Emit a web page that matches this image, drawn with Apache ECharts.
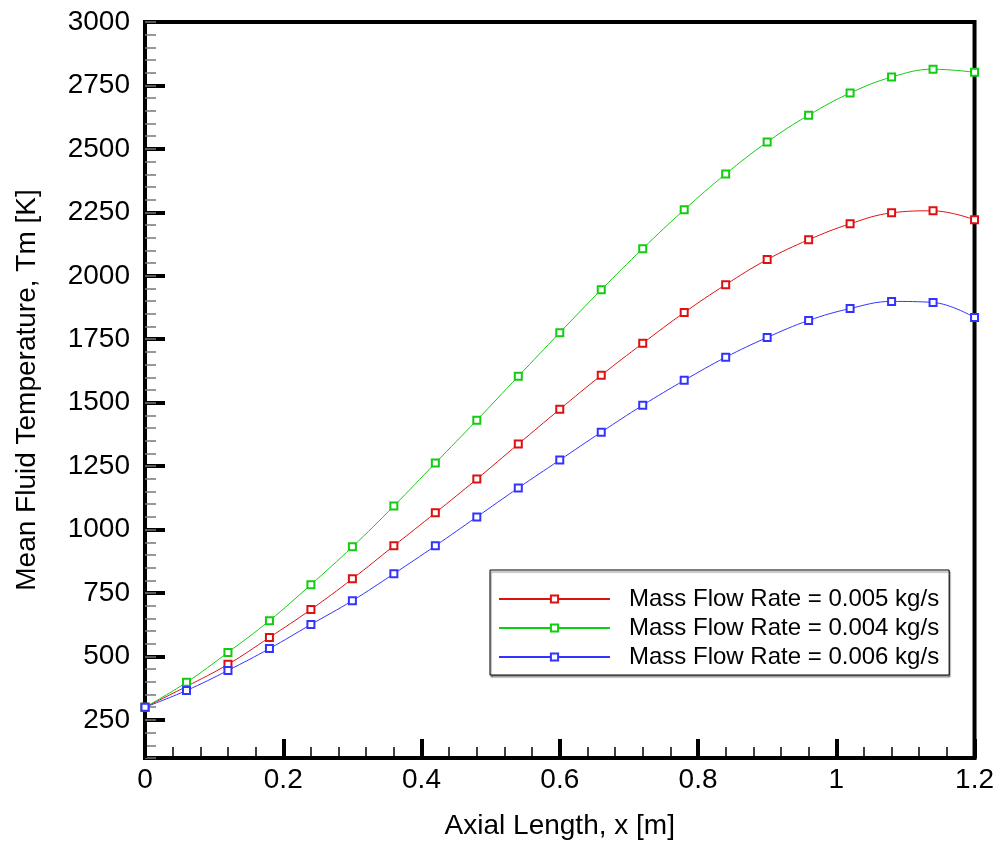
<!DOCTYPE html>
<html>
<head>
<meta charset="utf-8">
<script src="https://cdn.jsdelivr.net/npm/echarts@6/dist/echarts.min.js"></script>
<style>
html,body{margin:0;padding:0;background:#fff;}
#chart{width:997px;height:845px;}
</style>
</head>
<body>
<div id="chart"></div>
<script>
var xValues = [0, 0.06, 0.12, 0.18, 0.24, 0.30, 0.36, 0.42, 0.48, 0.54, 0.60, 0.66, 0.72, 0.78, 0.84, 0.90, 0.96, 1.02, 1.08, 1.14, 1.20];
var red005 = [300, 382, 469, 575, 685, 806, 936, 1066, 1199, 1337, 1474, 1608, 1734, 1855, 1965, 2064, 2142, 2205, 2248, 2256, 2221];
var green004 = [300, 398, 516, 641, 783, 932, 1093, 1262, 1431, 1604, 1776, 1945, 2107, 2260, 2401, 2527, 2633, 2720, 2783, 2814, 2802];
var blue006 = [300, 366, 445, 531, 626, 720, 826, 936, 1050, 1164, 1274, 1384, 1490, 1588, 1679, 1757, 1824, 1871, 1899, 1895, 1836];
var seriesNames = ['Mass Flow Rate = 0.005 kg/s', 'Mass Flow Rate = 0.004 kg/s', 'Mass Flow Rate = 0.006 kg/s'];
var yTicks = [250, 500, 750, 1000, 1250, 1500, 1750, 2000, 2250, 2500, 2750, 3000];
var xTicks = [0, 0.2, 0.4, 0.6, 0.8, 1, 1.2];

function pairs(ys) { return xValues.map(function (x, i) { return [x, ys[i]]; }); }

var FONT = '"Liberation Sans", Arial, sans-serif';
var chart = echarts.init(document.getElementById('chart'));

function mkSeries(name, ys, color) {
  return {
    name: name, type: 'line', data: pairs(ys), smooth: 0.4,
    symbol: 'emptyRect', symbolSize: 7,
    lineStyle: { color: color, width: 1 },
    itemStyle: { color: color, borderColor: color, borderWidth: 1 },
    clip: false, animation: false
  };
}

chart.setOption({
  animation: false,
  grid: { left: 145, right: 22, top: 22, bottom: 85, show: true, borderColor: '#000', borderWidth: 4, containLabel: false },
  xAxis: {
    type: 'value', min: 0, max: 1.2, interval: 0.2,
    name: 'Axial Length, x [m]', nameLocation: 'middle', nameGap: 54,
    nameTextStyle: { fontFamily: FONT, fontSize: 28, color: '#000' },
    axisLine: { show: true, lineStyle: { color: '#000', width: 4 } },
    axisTick: { show: true, inside: true, length: 19, lineStyle: { color: '#000', width: 4 } },
    minorTick: { show: true, splitNumber: 5, length: 11, lineStyle: { color: '#000', width: 1.5 } },
    axisLabel: { fontFamily: FONT, fontSize: 28, color: '#000', margin: 8,
      formatter: function (v) { var r = Math.round(v * 10) / 10; return xTicks.indexOf(r) >= 0 ? String(r) : ''; } },
    splitLine: { show: false }
  },
  yAxis: [{
    type: 'value', min: 100, max: 3000,
    name: 'Mean Fluid Temperature, Tm [K]', nameLocation: 'middle', nameGap: 104,
    nameTextStyle: { fontFamily: FONT, fontSize: 28, color: '#000' },
    axisLine: { show: true, lineStyle: { color: '#000', width: 4 } },
    axisTick: { show: true, inside: true, length: 20, customValues: yTicks, lineStyle: { color: '#000', width: 4 } },
    axisLabel: { fontFamily: FONT, fontSize: 28, color: '#000', margin: 15, customValues: yTicks,
      formatter: function (v) { return String(v); } },
    splitLine: { show: false }
  }, {
    type: 'value', min: 100, max: 3000, interval: 50, position: 'left', offset: 0,
    axisLine: { show: false },
    axisTick: { show: true, inside: true, length: 11, lineStyle: { color: '#777', width: 1.5 } },
    axisLabel: { show: false },
    splitLine: { show: false }
  }],
  legend: {
    orient: 'vertical', left: 490, top: 570,
    padding: [17, 10, 6, 8], itemGap: 5,
    itemWidth: 111, itemHeight: 9,
    backgroundColor: '#fff', borderColor: '#000', borderWidth: 1,
    shadowColor: 'rgba(0,0,0,0.45)', shadowOffsetX: 1, shadowOffsetY: 2, shadowBlur: 1,
    textStyle: { fontFamily: FONT, fontSize: 24, color: '#000', lineHeight: 24, padding: [0, 0, 0, 14] },
    data: seriesNames
  },
  series: [
    mkSeries(seriesNames[0], red005, '#dd1111'),
    mkSeries(seriesNames[1], green004, '#11cc11'),
    mkSeries(seriesNames[2], blue006, '#3333ff')
  ]
});
</script>
</body>
</html>
